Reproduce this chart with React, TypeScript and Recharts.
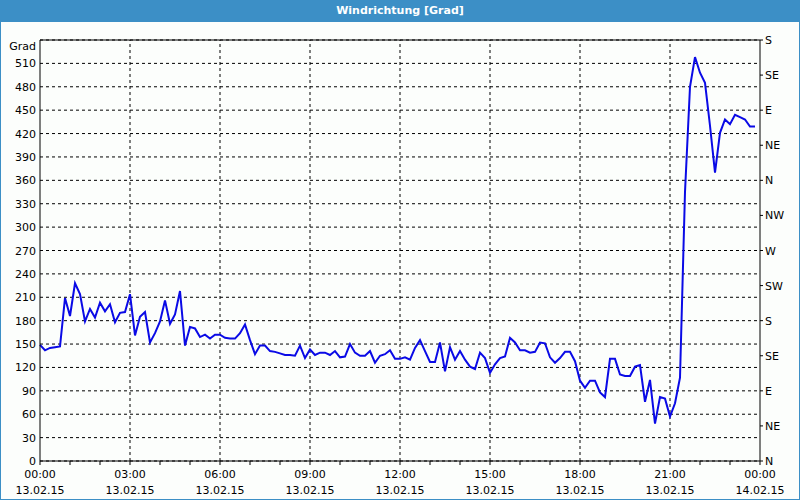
import React from 'react';
import {
  LineChart,
  Line,
  XAxis,
  YAxis,
  CartesianGrid,
  ReferenceLine,
} from 'recharts';

// Windrichtung alle 10 Minuten, 13.02.15 00:00 bis 23:50
const direction = [
  149, 142, 145, 146, 147, 209, 186, 228, 214, 179,
  195, 184, 203, 192, 201, 178, 190, 191, 214, 161,
  185, 191, 152, 164, 179, 206, 176, 188, 218, 148,
  172, 170, 159, 162, 157, 162, 162, 158, 157, 157,
  164, 175, 155, 137, 148, 148, 141, 140, 138, 136,
  136, 135, 148, 132, 143, 136, 139, 139, 136, 141,
  133, 134, 150, 139, 135, 135, 141, 126, 135, 137,
  142, 131, 131, 133, 130, 145, 155, 141, 127, 127,
  152, 115, 146, 130, 141, 130, 121, 118, 139, 132,
  113, 124, 132, 134, 158, 152, 142, 142, 139, 140,
  152, 151, 133, 126, 132, 140, 140, 128, 103, 94,
  103, 103, 88, 82, 131, 131, 111, 109, 109, 121,
  123, 76, 104, 48, 82, 80, 57, 74, 107, 345,
  480, 518, 498, 485, 430, 370, 421, 438, 432, 444,
  441, 438, 429, 429,
];

const timeTicks = [0, 60, 120, 180, 240, 300, 360, 420, 480, 540, 600, 660, 720, 780, 840, 900, 960, 1020, 1080, 1140, 1200, 1260, 1320, 1380, 1440];
const gridTimes = [180, 360, 540, 720, 900, 1080, 1260];
const timeLabels: Record<number, [string, string]> = {
  0: ['00:00', '13.02.15'],
  180: ['03:00', '13.02.15'],
  360: ['06:00', '13.02.15'],
  540: ['09:00', '13.02.15'],
  720: ['12:00', '13.02.15'],
  900: ['15:00', '13.02.15'],
  1080: ['18:00', '13.02.15'],
  1260: ['21:00', '13.02.15'],
  1440: ['00:00', '14.02.15'],
};
const degreeTicks = [0, 30, 60, 90, 120, 150, 180, 210, 240, 270, 300, 330, 360, 390, 420, 450, 480, 510, 540];
const compassTicks = [0, 45, 90, 135, 180, 225, 270, 315, 360, 405, 450, 495, 540];
const compassNames = ['N', 'NE', 'E', 'SE', 'S', 'SW', 'W', 'NW'];

const data = direction.map((v, i) => ({ t: i * 10, grad: v }));

const FONT = "Tahoma, 'DejaVu Sans', sans-serif";

const TimeTick = (props: any) => {
  const { x, y, payload } = props;
  const lab = timeLabels[payload.value];
  if (!lab) return null;
  return (
    <text x={x} y={y} textAnchor="middle" fontSize={11} fontFamily={FONT} fill="#000">
      <tspan x={x} dy={13}>{lab[0]}</tspan>
      <tspan x={x} dy={16}>{lab[1]}</tspan>
    </text>
  );
};

const DegreeTick = (props: any) => {
  const { x, y, payload } = props;
  const isTop = payload.value === 540;
  return (
    <text x={x} y={isTop ? y + 6 : y} dy={4} textAnchor="end" fontSize={11} fontFamily={FONT} fill="#000">
      {isTop ? 'Grad' : payload.value}
    </text>
  );
};

const CompassTick = (props: any) => {
  const { x, y, payload } = props;
  return (
    <text x={x} y={y} dy={4} textAnchor="start" fontSize={11} fontFamily={FONT} fill="#000">
      {compassNames[(payload.value / 45) % 8]}
    </text>
  );
};

export default function App() {
  return (
    <div
      style={{
        position: 'fixed',
        left: 0,
        top: 0,
        width: 800,
        height: 500,
        background: '#3c8fc6',
        fontFamily: FONT,
      }}
    >
      <div
        style={{
          height: 22,
          lineHeight: '22px',
          color: '#fff',
          fontWeight: 'bold',
          fontSize: 11,
          textAlign: 'center',
        }}
      >
        Windrichtung [Grad]
      </div>
      <div style={{ position: 'absolute', left: 1, top: 22, width: 798, height: 477, background: '#fcfefc' }} />
      <div style={{ position: 'absolute', left: 0, top: 0 }}>
        <LineChart width={800} height={500} data={data} margin={{ top: 40, right: 0, bottom: 0, left: 0 }}>
          <CartesianGrid yAxisId="left" vertical={false} stroke="#000" strokeDasharray="3 3" />
          {gridTimes.map((m) => (
            <ReferenceLine key={m} yAxisId="left" x={m} stroke="#000" strokeDasharray="3 3" />
          ))}
          <ReferenceLine yAxisId="left" y={540} stroke="#000" />
          <XAxis
            dataKey="t"
            type="number"
            domain={[0, 1440]}
            ticks={timeTicks}
            height={39}
            tick={<TimeTick />}
            tickSize={4}
            tickMargin={0}
            axisLine={{ stroke: '#000' }}
            tickLine={{ stroke: '#000' }}
            interval={0}
          />
          <YAxis
            yAxisId="left"
            domain={[0, 540]}
            ticks={degreeTicks}
            width={40}
            tick={<DegreeTick />}
            tickSize={0}
            tickMargin={4}
            tickLine={false}
            axisLine={{ stroke: '#000' }}
            interval={0}
          />
          <YAxis
            yAxisId="right"
            orientation="right"
            type="number"
            domain={[0, 540]}
            ticks={compassTicks}
            width={40}
            tick={<CompassTick />}
            tickSize={3}
            tickMargin={2}
            tickLine={{ stroke: '#000' }}
            axisLine={{ stroke: '#000' }}
            interval={0}
            allowDataOverflow
          />
          <Line
            yAxisId="right"
            type="linear"
            dataKey="grad"
            stroke="none"
            dot={false}
            activeDot={false}
            legendType="none"
            isAnimationActive={false}
          />
          <Line
            yAxisId="left"
            type="linear"
            dataKey="grad"
            stroke="#0a0ae6"
            strokeWidth={2}
            dot={false}
            isAnimationActive={false}
          />
        </LineChart>
      </div>
    </div>
  );
}
